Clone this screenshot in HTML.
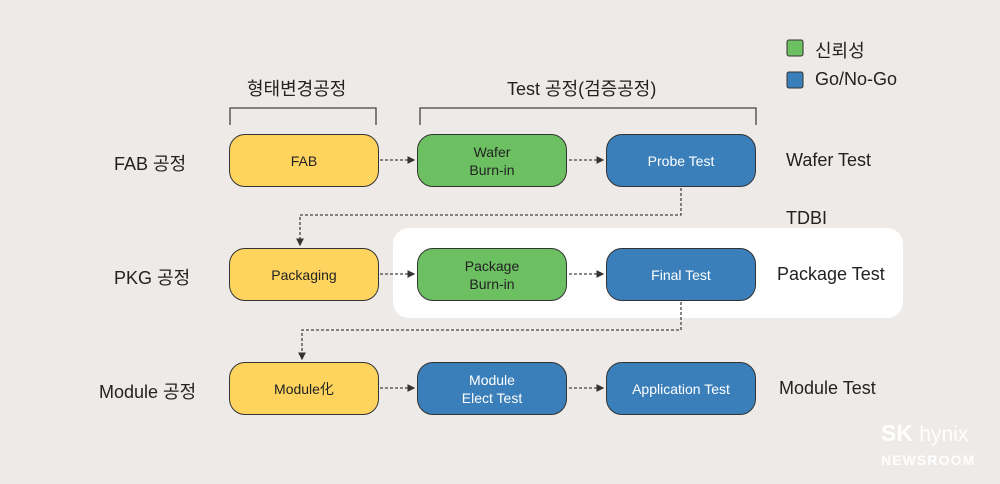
<!DOCTYPE html>
<html><head><meta charset="utf-8"><style>
body{margin:0;width:1000px;height:484px;background:#eeeae7;position:relative;overflow:hidden;font-family:"Liberation Sans","Noto Sans CJK KR",sans-serif;color:#222}
.b{position:absolute;width:148px;height:51px;border:1.5px solid #333;border-radius:16px;display:flex;align-items:center;justify-content:center;text-align:center;font-size:14px;line-height:18px}
.y{background:#fed35e}.g{background:#6cc062}.u{background:#3a7fba;color:#fff}
.t{position:absolute;font-size:18px;white-space:nowrap}
</style></head><body>
<div style="position:absolute;left:393px;top:228px;width:510px;height:90px;background:#fff;border-radius:16px"></div>
<svg width="1000" height="484" style="position:absolute;left:0;top:0">
<defs><marker id="a" markerWidth="6" markerHeight="6" refX="5" refY="3" orient="auto"><path d="M0,0L6,3L0,6z" fill="#333"/></marker></defs>
<g fill="none" stroke="#444" stroke-width="1.3">
<path d="M230,125V108H376V125M420,125V108H756V125"/>
</g>
<g fill="none" stroke="#444" stroke-width="1.3" stroke-dasharray="3,2" marker-end="url(#a)">
<path d="M380,160H414"/><path d="M569,160H603"/>
<path d="M380,274H414"/><path d="M569,274H603"/>
<path d="M380,388H414"/><path d="M569,388H603"/>
<path d="M681,188V215H300V245"/>
<path d="M681,302V330H302V359"/>
</g>
<rect x="787" y="40" width="16" height="16" rx="2" fill="#6cc062" stroke="#333"/>
<rect x="787" y="72" width="16" height="16" rx="2" fill="#3a7fba" stroke="#333"/>
</svg>
<div class="t" style="left:815px;top:37px">신뢰성</div>
<div class="t" style="left:815px;top:69px">Go/No-Go</div>
<div class="t" style="left:247px;top:75px">형태변경공정</div>
<div class="t" style="left:507px;top:75px">Test 공정(검증공정)</div>
<div class="t" style="left:114px;top:150px">FAB 공정</div>
<div class="t" style="left:114px;top:264px">PKG 공정</div>
<div class="t" style="left:99px;top:378px">Module 공정</div>
<div class="t" style="left:786px;top:150px">Wafer Test</div>
<div class="t" style="left:786px;top:208px">TDBI</div>
<div class="t" style="left:777px;top:264px">Package Test</div>
<div class="t" style="left:779px;top:378px">Module Test</div>
<div class="b y" style="left:229px;top:134px">FAB</div>
<div class="b g" style="left:417px;top:134px">Wafer<br>Burn-in</div>
<div class="b u" style="left:606px;top:134px">Probe Test</div>
<div class="b y" style="left:229px;top:248px">Packaging</div>
<div class="b g" style="left:417px;top:248px">Package<br>Burn-in</div>
<div class="b u" style="left:606px;top:248px">Final Test</div>
<div class="b y" style="left:229px;top:362px">Module化</div>
<div class="b u" style="left:417px;top:362px">Module<br>Elect Test</div>
<div class="b u" style="left:606px;top:362px">Application Test</div>
<div style="position:absolute;left:881px;top:420px;color:#fff;font-weight:bold;font-size:23px">SK <span style="font-weight:normal;font-size:21px">hynix</span></div>
<div style="position:absolute;left:881px;top:452px;color:#fff;font-weight:bold;font-size:14px;letter-spacing:1.1px">NEWSROOM</div>
</body></html>
